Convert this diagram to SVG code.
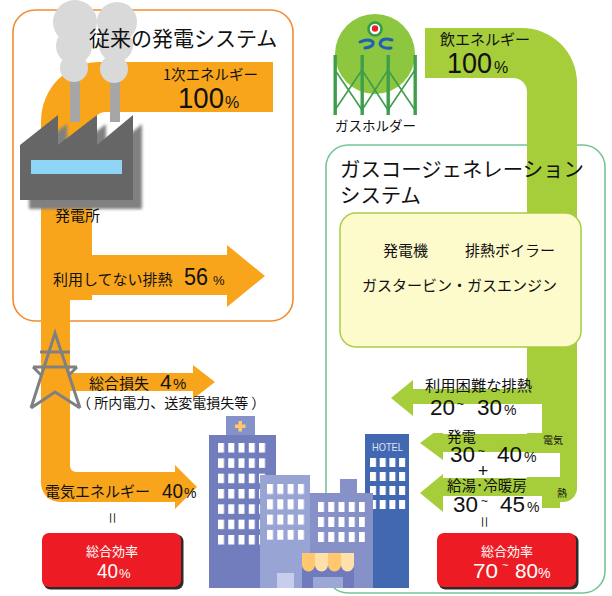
<svg xmlns="http://www.w3.org/2000/svg" width="612" height="596" viewBox="0 0 612 596">
  <defs>
    <style>
      .jp{font-family:'Noto Sans CJK JP','Noto Sans',sans-serif;fill:#111}
      .num{font-family:'Liberation Sans',Arial,sans-serif;fill:#111}
      .wt{fill:#fff}
      .or{fill:#f8a51c}
      .gr{fill:#a6cd3a}
      .smoke{fill:#d9d9d9}
      .pylon{fill:none;stroke:#808080;stroke-width:3;stroke-linejoin:miter;stroke-linecap:butt}
      .leg{fill:#3f9d4c}
      .brace{fill:none;stroke:#3f9d4c;stroke-width:1.6}
    </style>
    <filter id="soft" x="-10%" y="-10%" width="130%" height="130%">
      <feGaussianBlur stdDeviation="1.4"/>
    </filter>
    <pattern id="winHosp" patternUnits="userSpaceOnUse" x="218" y="443" width="10.25" height="15.33">
      <rect width="6" height="9.5" fill="#fff"/>
    </pattern>
    <pattern id="winMid" patternUnits="userSpaceOnUse" x="267" y="484" width="10.3" height="15.3">
      <rect width="6" height="10" fill="#fff"/>
    </pattern>
    <pattern id="winStore" patternUnits="userSpaceOnUse" x="318" y="502" width="10.25" height="15">
      <rect width="6" height="10" fill="#fff"/>
    </pattern>
    <pattern id="winHotel" patternUnits="userSpaceOnUse" x="370" y="458" width="9.7" height="14">
      <rect width="6" height="9" fill="#fff"/>
    </pattern>
  </defs>

  <rect width="612" height="596" fill="#fff"/>

  <!-- system frames -->
  <g id="frame-conventional">
    <rect x="13" y="10" width="280" height="311" rx="22" fill="none" stroke="#f28c30" stroke-width="1.6"/>
  </g>
  <g id="frame-cogeneration">
    <rect x="326" y="145" width="279" height="448" rx="22" fill="none" stroke="#76c596" stroke-width="1.6"/>
  </g>

  <!-- energy flows -->
  <g id="connectors">
    <!-- conventional: primary energy into the plant -->
    <path class="or" d="M273,62 H100 A59,59 0 0 0 41,121 V300 H92 V126 A14,14 0 0 1 106,112 H273 Z"/>
    <!-- unused waste heat -->
    <path class="or" d="M60,255 H227 V245 L265,276 L227,307 V295 H60 Z"/>
    <!-- transmission line down to the electricity output -->
    <path class="or" d="M41,250 V483 A19,19 0 0 0 60,502 H175 V509 L197,487 L175,465 V472 H76 A6,6 0 0 1 70,466 V250 Z"/>
    <!-- losses -->
    <path class="or" d="M60,373 H193 V365 L215,382 L193,399 V391 H60 Z"/>

    <!-- cogeneration: gas in, down through the unit -->
    <path class="gr" d="M425,28 H522 A55,55 0 0 1 577,83 V488 A14,14 0 0 1 563,502 H527 V92 A14,14 0 0 0 513,78 H425 Z"/>
    <path class="gr" d="M530,389 H413 V380 L391,398 L413,416 V407 H530 Z"/>
    <path class="gr" d="M560,434 H443 V426 L420,443 L443,460 V452 H560 Z"/>
    <path class="gr" d="M560,478 H443 V474 L420,493 L443,512 V508 H560 Z"/>
    <!-- label backgrounds -->
    <rect x="413" y="404" width="129" height="29" fill="#fff"/>
    <rect x="443" y="453" width="117" height="24" fill="#fff"/>
    <rect x="443" y="496" width="99" height="20" fill="#fff"/>
  </g>

  <!-- power plant -->
  <g id="power-plant">
    <rect x="70" y="62" width="10" height="60" fill="#a6a6a6"/>
    <rect x="110" y="62" width="10" height="60" fill="#a6a6a6"/>
    <circle class="smoke" cx="75" cy="22" r="22"/>
    <circle class="smoke" cx="74" cy="46" r="18"/>
    <circle class="smoke" cx="74" cy="68" r="14"/>
    <circle class="smoke" cx="117" cy="22" r="20"/>
    <circle class="smoke" cx="116" cy="45" r="17"/>
    <circle class="smoke" cx="114" cy="69" r="14"/>
    <polygon points="29,154 67,124 67,154 106,124 106,154 142,124 142,209 29,209" fill="#808080" filter="url(#soft)"/>
    <polygon points="20,145 58,115 58,145 97,115 97,145 133,115 133,200 20,200" fill="#666"/>
    <rect x="31" y="160" width="91" height="14" fill="#8dd4f5"/>
    <text class="jp" x="55" y="221" font-size="15">発電所</text>
  </g>

  <!-- transmission tower -->
  <g id="tower">
    <path class="pylon" d="M31,408 L55,333 L80,408 M40,352 H70 M33,367 H77 M33,367 L42,376 M77,367 L68,376 M31,408 L55,392 L80,408"/>
  </g>

  <!-- conventional system labels -->
  <g id="label-conventional">
    <text class="jp" x="89" y="46" font-size="21">従来の発電システム</text>
    <text class="jp" x="163" y="80" font-size="14.5">1次エネルギー</text>
    <text class="num" x="178" y="108" font-size="30" textLength="46" lengthAdjust="spacingAndGlyphs">100</text>
    <text class="num" x="225" y="108" font-size="16">%</text>
  </g>
  <g id="label-waste-heat">
    <text class="jp" x="53" y="285" font-size="15">利用してない排熱</text>
    <text class="num" x="184" y="285" font-size="23" textLength="24" lengthAdjust="spacingAndGlyphs">56</text>
    <text class="num" x="213" y="285" font-size="13">%</text>
  </g>
  <g id="label-loss">
    <text class="jp" x="89" y="389" font-size="15">総合損失</text>
    <text class="num" x="160" y="389" font-size="21">4</text>
    <text class="num" x="173" y="389" font-size="15">%</text>
    <text class="jp" x="77" y="408" font-size="14">（ 所内電力、送変電損失等 ）</text>
  </g>
  <g id="label-electricity">
    <text class="jp" x="45" y="497" font-size="15">電気エネルギー</text>
    <text class="num" x="162" y="498" font-size="21" textLength="21" lengthAdjust="spacingAndGlyphs">40</text>
    <text class="num" x="184" y="498" font-size="14">%</text>
    <text class="jp" x="113" y="518" font-size="13" text-anchor="middle" dominant-baseline="central" transform="rotate(90 113 518)">＝</text>
  </g>

  <!-- efficiency, conventional -->
  <g id="efficiency-conventional">
    <rect x="43.5" y="534.5" width="140" height="55" rx="7" fill="#2b2b2b"/>
    <rect x="42" y="533" width="139" height="54" rx="7" fill="#ed1c24"/>
    <text class="jp wt" x="112" y="556" font-size="13" text-anchor="middle">総合効率</text>
    <text class="num wt" x="97" y="578" font-size="20" textLength="21" lengthAdjust="spacingAndGlyphs">40</text>
    <text class="num wt" x="119" y="578" font-size="13">%</text>
  </g>

  <!-- gas holder -->
  <g id="gas-holder">
    <circle cx="375" cy="54" r="40" fill="#8dc63f"/>
    <rect class="leg" x="333.5" y="55" width="3.4" height="60"/>
    <rect class="leg" x="360.5" y="55" width="3.4" height="60"/>
    <rect class="leg" x="386.5" y="55" width="3.4" height="60"/>
    <rect class="leg" x="413.5" y="55" width="3.4" height="60"/>
    <path class="brace" d="M335,70 L362,110 M362,70 L335,110 M362,70 L388,110 M388,70 L362,110 M388,70 L415,110 M415,70 L388,110"/>
    <circle cx="375" cy="29" r="6.5" fill="#fff" stroke="#2f9e48" stroke-width="2.6"/>
    <circle cx="375" cy="28.5" r="3.2" fill="#e8202a"/>
    <path d="M360,42 Q369,38 373,42 Q374,47 365,48" fill="none" stroke="#1f5fb5" stroke-width="3" stroke-linecap="round"/>
    <path d="M392,40 Q381,37 380,44 Q382,49 391,48" fill="none" stroke="#1f5fb5" stroke-width="3" stroke-linecap="round"/>
    <text class="jp" x="335" y="131" font-size="13.5">ガスホルダー</text>
  </g>

  <!-- cogeneration labels -->
  <g id="label-gas-input">
    <text class="jp" x="440" y="45" font-size="15">飲エネルギー</text>
    <text class="num" x="447" y="73" font-size="30" textLength="45" lengthAdjust="spacingAndGlyphs">100</text>
    <text class="num" x="494" y="73" font-size="16">%</text>
  </g>
  <g id="label-cogeneration">
    <text class="jp" x="340" y="177" font-size="20.4">ガスコージェネレーション</text>
    <text class="jp" x="340" y="203" font-size="20.4">システム</text>
  </g>

  <g id="cogeneration-unit">
    <rect x="340" y="213" width="241" height="134" rx="16" fill="#fdfbcb" stroke="#a8ce44" stroke-width="1.5"/>
    <text class="jp" x="383" y="256" font-size="15">発電機</text>
    <text class="jp" x="465" y="256" font-size="15">排熱ボイラー</text>
    <text class="jp" x="362" y="291" font-size="15">ガスタービン・ガスエンジン</text>
  </g>

  <g id="label-unused-heat">
    <text class="jp" x="425" y="391" font-size="15.3">利用困難な排熱</text>
    <text class="num" x="430" y="415" font-size="22" textLength="25" lengthAdjust="spacingAndGlyphs">20</text>
    <text class="num" x="457" y="408" font-size="12">~</text>
    <text class="num" x="477" y="415" font-size="22" textLength="25" lengthAdjust="spacingAndGlyphs">30</text>
    <text class="num" x="504" y="415" font-size="14">%</text>
  </g>
  <g id="label-power">
    <text class="jp" x="447" y="442" font-size="14.5">発電</text>
    <text class="num" x="450" y="462" font-size="22" textLength="25" lengthAdjust="spacingAndGlyphs">30</text>
    <text class="num" x="478" y="455" font-size="12">~</text>
    <text class="num" x="497" y="462" font-size="22" textLength="25" lengthAdjust="spacingAndGlyphs">40</text>
    <text class="num" x="524" y="462" font-size="14">%</text>
    <text class="num" x="483" y="477" font-size="18" text-anchor="middle">+</text>
    <text class="jp" x="543" y="444" font-size="10">電気</text>
  </g>
  <g id="label-heat">
    <text class="jp" x="447" y="491" font-size="14.5">給湯･冷暖房</text>
    <text class="num" x="453" y="512" font-size="22" textLength="25" lengthAdjust="spacingAndGlyphs">30</text>
    <text class="num" x="481" y="505" font-size="12">~</text>
    <text class="num" x="500" y="512" font-size="22" textLength="25" lengthAdjust="spacingAndGlyphs">45</text>
    <text class="num" x="527" y="512" font-size="14">%</text>
    <text class="jp" x="557" y="497" font-size="10">熱</text>
    <text class="jp" x="485" y="522" font-size="13" text-anchor="middle" dominant-baseline="central" transform="rotate(90 485 522)">＝</text>
  </g>

  <!-- efficiency, cogeneration -->
  <g id="efficiency-cogeneration">
    <rect x="438.5" y="534.5" width="140" height="55" rx="7" fill="#2b2b2b"/>
    <rect x="437" y="533" width="139" height="54" rx="7" fill="#ed1c24"/>
    <text class="jp wt" x="507" y="556" font-size="13" text-anchor="middle">総合効率</text>
    <text class="num wt" x="473" y="578" font-size="21" textLength="25" lengthAdjust="spacingAndGlyphs">70</text>
    <text class="num wt" x="502" y="569" font-size="11">~</text>
    <text class="num wt" x="515" y="578" font-size="21" textLength="23" lengthAdjust="spacingAndGlyphs">80</text>
    <text class="num wt" x="538" y="578" font-size="14">%</text>
  </g>

  <!-- consumers -->
  <g id="buildings">
    <!-- hotel -->
    <rect x="365" y="434" width="44" height="154" fill="#4168b0"/>
    <text x="387.5" y="451" font-family="'Liberation Sans',Arial,sans-serif" font-size="11" fill="#dfe4f4" text-anchor="middle" textLength="31" lengthAdjust="spacingAndGlyphs">HOTEL</text>
    <rect x="370" y="458" width="36" height="51" fill="url(#winHotel)"/>
    <!-- hospital -->
    <rect x="226" y="416" width="29" height="19" fill="#8492c9"/>
    <path d="M238.5,421 h3.5 v3.5 h3.5 v3.5 h-3.5 v3.5 h-3.5 v-3.5 h-3.5 v-3.5 h3.5 z" fill="#ffc96b"/>
    <rect x="209" y="435" width="67" height="153" fill="#717dbd"/>
    <rect x="218" y="443" width="48" height="102" fill="url(#winHosp)"/>
    <!-- middle block -->
    <rect x="260" y="475" width="50" height="113" fill="#98a4d4"/>
    <rect x="267" y="484" width="38" height="56" fill="url(#winMid)"/>
    <rect x="277" y="573" width="17" height="15" fill="#c8cdeb"/>
    <!-- shop block -->
    <rect x="340" y="479" width="17" height="15" fill="#8591c7"/>
    <rect x="310" y="493" width="63" height="95" fill="#8591c7"/>
    <rect x="318" y="502" width="47" height="40" fill="url(#winStore)"/>
    <rect x="302" y="565" width="52" height="23" fill="#6f7bbd"/>
    <rect x="313" y="577" width="30" height="11" fill="#9ca7d6"/>
    <path d="M302,553 h13 v12 a6.5,6.5 0 0 1 -13,0 z" fill="#ffc86e"/>
    <path d="M315,553 h13 v12 a6.5,6.5 0 0 1 -13,0 z" fill="#fee0aa"/>
    <path d="M328,553 h13 v12 a6.5,6.5 0 0 1 -13,0 z" fill="#ffc86e"/>
    <path d="M341,553 h13 v12 a6.5,6.5 0 0 1 -13,0 z" fill="#fee0aa"/>
  </g>
</svg>
